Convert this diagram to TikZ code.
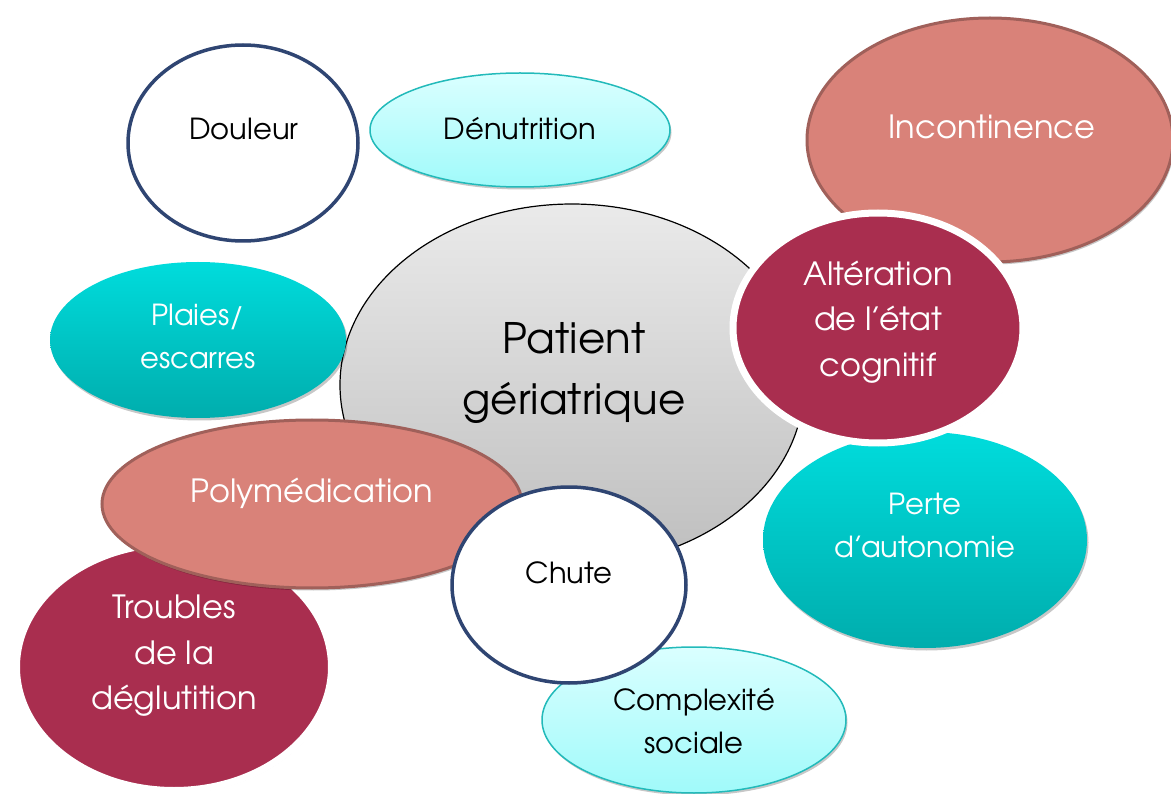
\documentclass[tikz,border=0pt]{standalone}
\usepackage{fontspec}
\setmainfont{TeX Gyre Adventor}
\usetikzlibrary{shapes.geometric,shadows}
\definecolor{navy}{HTML}{2F4572}
\definecolor{salmon}{HTML}{D98279}
\definecolor{salmonD}{HTML}{A0605A}
\definecolor{crimson}{HTML}{A92E4F}
\definecolor{tealT}{HTML}{00DCDC}
\definecolor{tealB}{HTML}{00ADAD}
\definecolor{cyanT}{HTML}{DAFFFF}
\definecolor{cyanB}{HTML}{A0FAFA}
\definecolor{cyanD}{HTML}{22BABA}
\definecolor{greyT}{HTML}{EAEAEA}
\definecolor{greyB}{HTML}{BEBEBE}
\newcommand{\apo}{\kern-1.5pt’\kern-2.5pt}
\begin{document}
\begin{tikzpicture}[x=1pt,y=-1pt,
  blob/.style={ellipse, inner sep=0pt},
  soft/.style={drop shadow={shadow xshift=1.5pt, shadow yshift=-2.5pt, opacity=0.22, fill=black}},
  navyring/.style={blob, fill=white, draw=navy, line width=3.5pt},
  salmonblob/.style={blob, fill=salmon, draw=salmonD, line width=3pt, soft},
  crimsonblob/.style={blob, fill=crimson, draw=white, line width=7pt, soft},
  tealblob/.style={blob, top color=tealT, bottom color=tealB, draw=none, soft},
  cyanblob/.style={blob, top color=cyanT, bottom color=cyanB, draw=cyanD, line width=1.5pt, soft},
  centreblob/.style={blob, top color=greyT, bottom color=greyB, draw=black, line width=1.2pt},
  lbl/.style={align=center, font=\fontsize{29}{43}\selectfont, inner sep=0pt},
  big/.style={font=\fontsize{32}{45.5}\selectfont},
  lblw/.style={lbl, text=white},
  lblk/.style={lbl, text=black}
]
\useasboundingbox (0,0) rectangle (1171,794);
\fill[white] (0,0) rectangle (1171,794);

\node[salmonblob, minimum width=366pt, minimum height=244pt] (incont) at (990,140) {};
\node[centreblob, minimum width=464pt, minimum height=362pt] (centre) at (572,385) {};
\node[cyanblob, minimum width=300pt, minimum height=114pt] (denut) at (520,130) {};
\node[navyring, minimum width=230pt, minimum height=196pt] (douleur) at (243,143) {};
\node[tealblob, minimum width=296pt, minimum height=156pt] (plaies) at (198,340) {};
\node[tealblob, minimum width=324pt, minimum height=216pt] (perte) at (925,540) {};
\node[crimsonblob, minimum width=290pt, minimum height=230pt] (alter) at (878,328) {};
\node[crimsonblob, minimum width=315pt, minimum height=247pt] (troubles) at (174,667) {};
\node[salmonblob, minimum width=420pt, minimum height=168pt] (polym) at (312,504) {};
\node[cyanblob, minimum width=304pt, minimum height=146pt] (complex) at (694,720) {};
\node[navyring, minimum width=234pt, minimum height=196pt] (chute) at (569,585) {};

\node[lblw, big] (t-incont) at (992,127) {Incontinence};
\node[lblk, font=\fontsize{42}{61}\selectfont] (t-centre) at (574,373) {Patient\\gériatrique};
\node[lblk] (t-denut) at (520,129) {Dénutrition};
\node[lblk] (t-douleur) at (244,129) {Douleur};
\node[lblw] (t-plaies) at (198,336) {Plaies/\\escarres};
\node[lblw] (t-perte) at (925,525) {Perte\\d\apo autonomie};
\node[lblw, big] (t-alter) at (878,322) {Altération\\de l\apo état\\cognitif};
\node[lblw, big] (t-troubles) at (174,656) {Troubles\\de la\\déglutition};
\node[lblw, big] (t-polym) at (312,493) {Polymédication};
\node[lblk] (t-complex) at (694,721) {Complexité\\sociale};
\node[lblk] (t-chute) at (569,573) {Chute};
\end{tikzpicture}
\end{document}
